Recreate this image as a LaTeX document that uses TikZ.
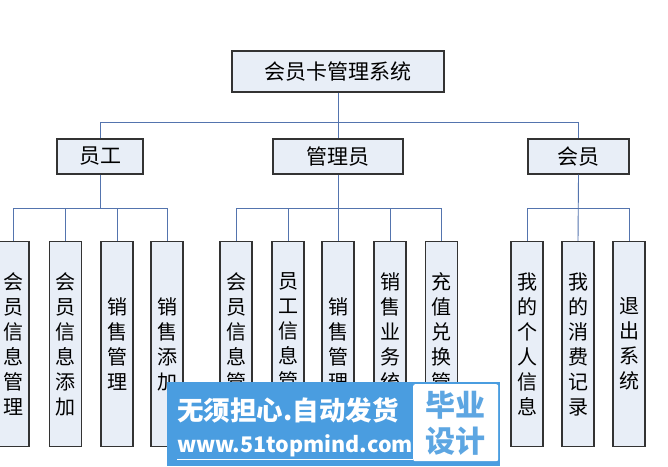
\documentclass[tikz,border=0pt]{standalone}
\usepackage{fontspec}
\setmainfont{Noto Sans CJK SC}
\newfontfamily\cjk{Noto Sans CJK SC}
\definecolor{boxfill}{HTML}{E8EEF7}
\definecolor{boxline}{HTML}{333333}
\definecolor{connc}{HTML}{5474AE}
\definecolor{wmblue}{HTML}{4A9DE0}
\definecolor{wmtext}{HTML}{5DA6E2}
\tikzset{
  topbox/.style={draw=boxline, line width=1.2pt, fill=boxfill, inner sep=0pt, font=\cjk\fontsize{21}{21}\selectfont},
  leafbox/.style={draw=boxline, line width=1.2pt, fill=boxfill, inner sep=0pt, minimum width=32pt, minimum height=205pt, align=center, font=\cjk\fontsize{20}{25}\selectfont},
  conn/.style={draw=connc, line width=0.9pt},
}
\begin{document}
\begin{tikzpicture}[x=1pt, y=-1pt]
\useasboundingbox (0,0) rectangle (668,466);
\fill[white] (0,0) rectangle (668,466);
% coordinates for bars
\coordinate (b1) at (0,122);
\coordinate (b2) at (0,208);
% root
\node[topbox, minimum width=212pt, minimum height=41pt] (root) at (338,71.5) {会员卡管理系统};
% level 2
\node[topbox, minimum width=86pt, minimum height=35pt] (yg) at (100,156.5) {员工};
\node[topbox, minimum width=130pt, minimum height=35pt] (gl) at (338,156.5) {管理员};
\node[topbox, minimum width=101pt, minimum height=35pt] (hy) at (578.5,156.5) {会员};
% leaves
\node[leafbox] (a1) at (13,344) {会\\员\\信\\息\\管\\理};
\node[leafbox] (a2) at (65.5,344) {会\\员\\信\\息\\添\\加};
\node[leafbox] (a3) at (117,344) {销\\售\\管\\理};
\node[leafbox] (a4) at (167,344) {销\\售\\添\\加};
\node[leafbox] (m1) at (236,344) {会\\员\\信\\息\\管\\理};
\node[leafbox] (m2) at (288,344) {员\\工\\信\\息\\管\\理};
\node[leafbox] (m3) at (338,344) {销\\售\\管\\理};
\node[leafbox] (m4) at (390,344) {销\\售\\业\\务\\统\\计};
\node[leafbox] (m5) at (441.5,344) {充\\值\\兑\\换\\管\\理};
\node[leafbox] (h1) at (527,344) {我\\的\\个\\人\\信\\息};
\node[leafbox] (h2) at (578,344) {我\\的\\消\\费\\记\\录};
\node[leafbox] (h3) at (629,344) {退\\出\\系\\统};
% connectors level 1
\draw[conn] (root.south) -- (gl.north);
\draw[conn] (yg.north) |- (hy.north |- b1) -- (hy.north);
% connectors employee
\draw[conn] (yg.south) -- (yg.south |- b2);
\draw[conn] (a1.north) |- (a4.north |- b2) -- (a4.north);
\draw[conn] (a2.north) -- (a2.north |- b2);
\draw[conn] (a3.north) -- (a3.north |- b2);
% connectors admin
\draw[conn] (gl.south) -- (m3.north);
\draw[conn] (m1.north) |- (m5.north |- b2) -- (m5.north);
\draw[conn] (m2.north) -- (m2.north |- b2);
\draw[conn] (m4.north) -- (m4.north |- b2);
% connectors member
\draw[conn] (hy.south) -- (h2.north);
\draw[conn] (h1.north) |- (h3.north |- b2) -- (h3.north);
% watermark
\node[fill=wmblue, minimum width=333pt, minimum height=84pt, inner sep=0pt, anchor=north west] (wm) at (167,382) {};
\node[fill=white, rounded corners=2pt, minimum width=85pt, minimum height=77pt, inner sep=0pt, anchor=north west] (wmw) at (413,384) {};
\node[text=white, font=\cjk\bfseries\fontsize{26.5}{26.5}\selectfont, inner sep=0pt, anchor=west] (wm1) at (177,410) {无须担心.自动发货};
\node[text=white, font=\cjk\bfseries\fontsize{21.5}{21.5}\selectfont, inner sep=0pt, anchor=west] (wm2) at (177,446) {www.51topmind.com};
\draw[white, line width=1pt] (wm2.south west) ++(0,2) -- ([yshift=-2pt]wm2.south east);
\node[text=wmtext, font=\cjk\bfseries\fontsize{30}{36}\selectfont, inner sep=0pt, align=center] (wm3) at (455,423) {毕业\\设计};
\end{tikzpicture}
\end{document}
